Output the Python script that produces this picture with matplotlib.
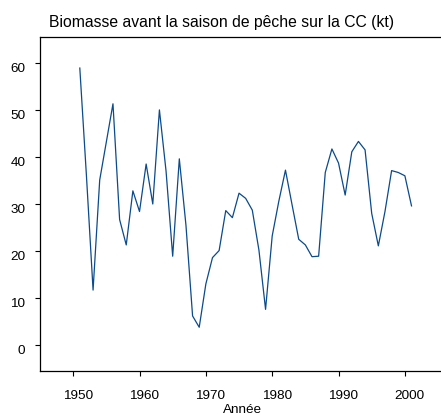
import matplotlib
matplotlib.use("Agg")
import matplotlib.pyplot as plt
from matplotlib.transforms import ScaledTranslation

# Biomass before fishing season, 1951-2001
years = list(range(1951, 2002))
biomass = [58.9, 36.0, 11.7, 35.1, 43.2, 51.3, 26.7, 21.3, 32.8, 28.4,
           38.5, 30.0, 50.0, 37.0, 18.9, 39.6, 25.5, 6.2, 3.8, 13.0,
           18.6, 20.1, 28.6, 27.1, 32.3, 31.2, 28.7, 20.2, 7.6, 23.2,
           30.6, 37.2, 29.8, 22.5, 21.3, 18.8, 18.9, 36.7, 41.7, 38.7,
           31.9, 41.1, 43.3, 41.5, 28.0, 21.1, 28.4, 37.1, 36.7, 36.0,
           29.6]
xticks = [1950, 1960, 1970, 1980, 1990, 2000]
yticks = [0, 10, 20, 30, 40, 50, 60]

plt.rcParams['font.family'] = ['Liberation Sans', 'DejaVu Sans']

W, H = 441, 418
fig = plt.figure(figsize=(W / 100, H / 100), dpi=100)
ax = fig.add_axes([40 / W, (H - 371) / H, 408 / W, 334 / H])

ax.plot(years, biomass, color="#0b4a8b", linewidth=0.9)

ax.set_xlim(1945.0, 2006.5)
ax.set_ylim(-5.5, 65.5)
ax.set_xticks(xticks)
ax.set_yticks(yticks)
ax.tick_params(axis='both', direction='out', length=3.6, width=0.8,
               labelsize=9.7)
ax.tick_params(axis='x', pad=10.2)
ax.tick_params(axis='y', pad=7)
for s in ax.spines.values():
    s.set_linewidth(0.9)

# labels in the reference sit slightly right / below their ticks
for lab in ax.get_xticklabels():
    lab.set_transform(lab.get_transform() + ScaledTranslation(4.5 / 100, 0, fig.dpi_scale_trans))
for lab in ax.get_yticklabels():
    lab.set_transform(lab.get_transform() + ScaledTranslation(0, -4.5 / 100, fig.dpi_scale_trans))

fig.text(49 / W, 1 - 27 / H, "Biomasse avant la saison de pêche sur la CC (kt)",
         fontsize=11.3, ha='left', va='baseline')
fig.text(242 / W, 2 / H, "Année", fontsize=9.7, ha='center', va='bottom')

fig.savefig("out.png", dpi=100)
